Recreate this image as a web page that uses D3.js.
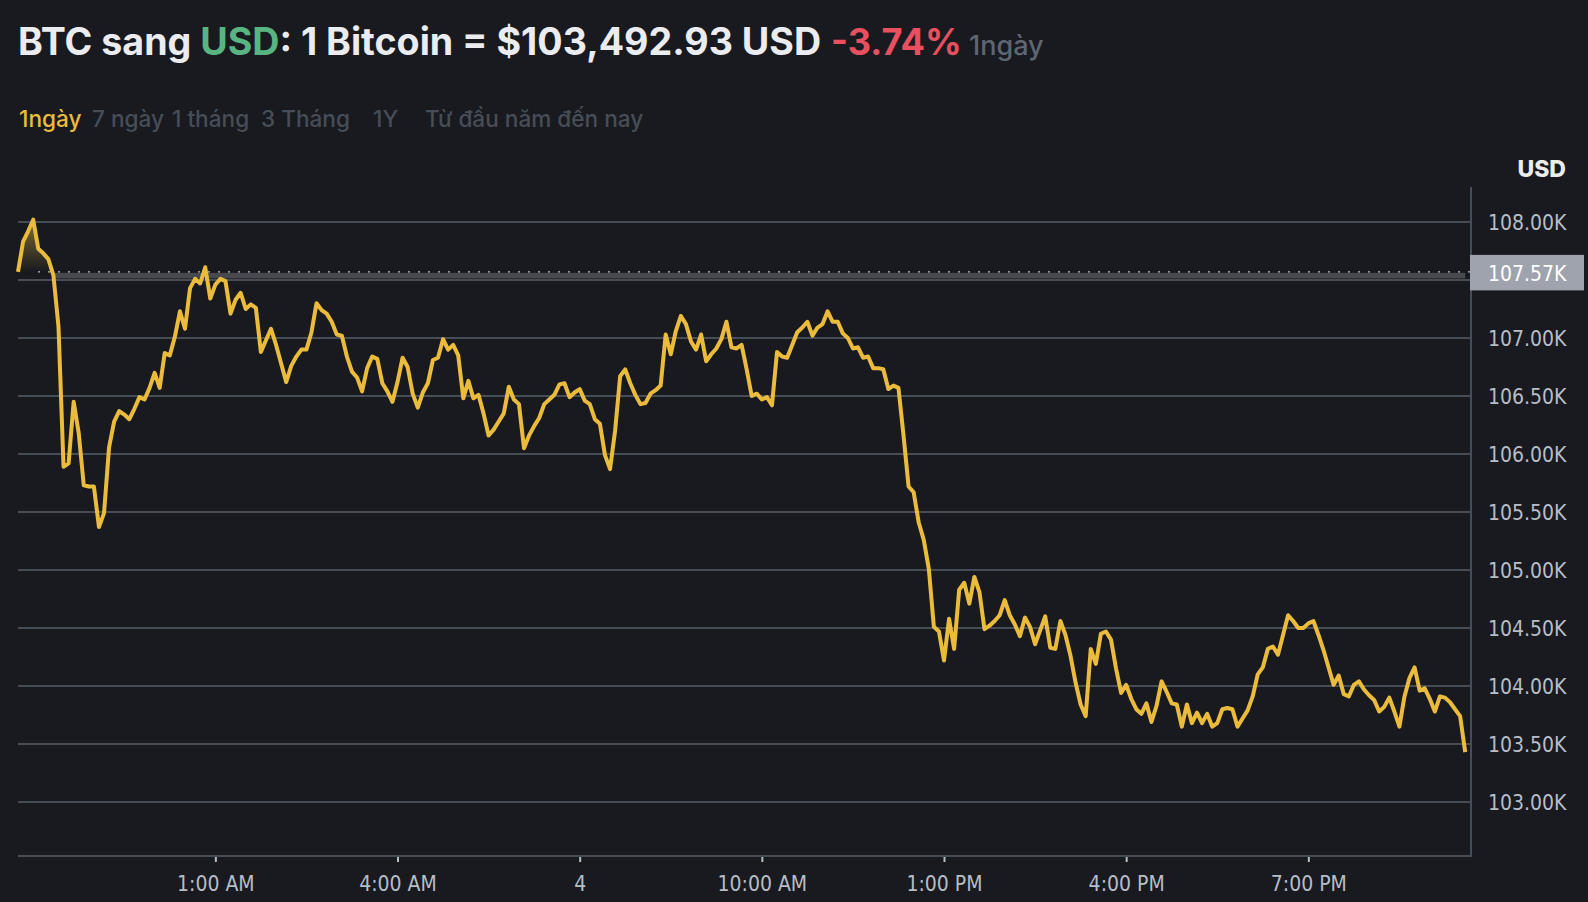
<!DOCTYPE html>
<html><head><meta charset="utf-8">
<script src="https://cdn.jsdelivr.net/npm/d3@7"></script>
<style>
html,body{margin:0;padding:0;background:#181a20;overflow:hidden}
svg{display:block}
.hdr{font-family:Inter,sans-serif}
</style></head><body>
<svg id="c" width="1588" height="902"></svg>
<script>
const prices=[107.57,107.83,107.92,108.02,107.77,107.73,107.68,107.54,107.10,105.89,105.92,106.45,106.18,105.73,105.72,105.72,105.37,105.49,106.06,106.28,106.37,106.34,106.30,106.39,106.49,106.47,106.57,106.70,106.57,106.87,106.85,107.01,107.23,107.08,107.43,107.51,107.47,107.61,107.34,107.46,107.51,107.49,107.21,107.33,107.39,107.25,107.29,107.26,106.88,106.98,
107.08,106.94,106.78,106.62,106.76,106.84,106.90,106.90,107.05,107.30,107.24,107.21,107.14,107.03,107.02,106.84,106.71,106.66,106.54,106.74,106.84,106.82,106.61,106.54,106.45,106.62,106.83,106.75,106.52,106.40,106.53,106.61,106.81,106.83,106.99,106.90,106.94,106.85,
106.48,106.63,106.48,106.51,106.35,106.16,106.21,106.28,106.35,106.58,106.47,106.43,106.05,106.16,106.24,106.31,106.43,106.47,106.51,106.60,106.61,106.49,106.53,106.56,106.46,106.43,106.30,106.26,105.99,105.87,106.20,106.67,106.73,106.61,106.51,106.43,106.44,
106.52,106.55,106.59,107.03,106.86,107.06,107.19,107.12,106.97,106.90,107.03,106.80,106.86,106.91,106.99,107.14,106.92,106.91,106.94,106.73,106.50,106.52,106.47,106.49,106.42,106.88,106.84,106.83,106.94,107.05,107.09,107.14,107.02,107.09,107.12,107.23,107.14,107.14,107.04,107.00,106.91,106.92,106.83,106.84,106.74,106.74,106.73,
106.56,106.59,106.57,106.16,105.72,105.67,105.41,105.26,105.01,104.51,104.47,104.22,104.58,104.32,104.83,104.89,104.71,104.94,104.81,104.49,104.52,104.56,104.61,104.74,104.61,104.53,104.43,104.59,104.51,104.36,104.48,
104.60,104.33,104.32,104.56,104.44,104.26,104.03,103.84,103.74,104.32,104.19,104.45,104.47,104.40,104.15,103.94,104.01,103.89,103.80,103.76,103.85,103.69,103.83,104.04,103.95,103.85,103.84,103.65,103.84,103.68,103.77,103.68,103.76,103.65,103.68,103.80,103.81,103.80,
103.65,103.72,103.79,103.91,104.10,104.16,104.32,104.34,104.27,104.44,104.61,104.56,104.50,104.50,104.54,104.56,104.44,104.31,104.16,104.01,104.09,103.93,103.91,104.01,104.04,103.97,103.92,103.88,103.78,103.82,103.90,103.78,103.65,103.91,104.07,104.16,103.96,103.98,103.89,103.78,103.91,103.90,103.86,103.80,103.74,103.43];
const gridValues=[103,103.5,104,104.5,105,105.5,106,106.5,107,107.5,108];
const yTicks=[103,103.5,104,104.5,105,105.5,106,106.5,107,108];
const xTickSteps=[39,75,111,147,183,219,255];
const xTickLabels=["1:00 AM","4:00 AM","4","10:00 AM","1:00 PM","4:00 PM","7:00 PM"];
const basePrice=107.57;
const baseLabel="107.57K";
const rangeLabels=["1ngày","7 ngày","1 tháng","3 Tháng","1Y","Từ đầu năm đến nay"];
const rangeX=[19,92,172,261,373,425];

const BG="#181a20",GRID="#474d57",GOLD="#ebbc3c",TICK="#b7bdc6";
const TICKFONT="'DejaVu Sans Condensed','DejaVu Sans',sans-serif";
const svg=d3.select("#c");
const x=d3.scaleLinear().domain([0,286]).range([18,1465.2]);
const y=d3.scaleLinear().domain([103,108]).range([802,222]);
const right=1471,bottom=856;

// header
const title=svg.append("text").attr("class","hdr").attr("x",18).attr("y",55)
  .attr("font-size",37.6).attr("font-weight",700).attr("fill","#eaecef");
title.append("tspan").text("BTC sang ");
title.append("tspan").attr("fill","#58b582").text("USD");
title.append("tspan").text(": 1 Bitcoin = $103,492.93 USD");
svg.append("text").attr("class","hdr").attr("x",831).attr("y",55).attr("font-size",36.2).attr("font-weight",700).attr("fill","#e8505f").text("-3.74%");
svg.append("text").attr("class","hdr").attr("x",969).attr("y",55).attr("font-size",27).attr("font-weight",500).attr("fill","#5e6673").text("1ngày");
svg.selectAll("text.rng").data(rangeLabels).join("text").attr("class","hdr rng")
  .attr("x",(d,i)=>rangeX[i]).attr("y",127).attr("font-size",22.6).attr("font-weight",500)
  .attr("fill",(d,i)=>i===0?"#ebbc3c":"#474d57").text(d=>d);

// grid
svg.append("g").selectAll("line").data(gridValues).join("line")
  .attr("x1",18).attr("x2",right).attr("y1",d=>y(d)).attr("y2",d=>y(d))
  .attr("stroke",GRID).attr("stroke-width",2);

// fill
const defs=svg.append("defs");
const g=defs.append("linearGradient").attr("id","up").attr("gradientUnits","userSpaceOnUse")
  .attr("x1",0).attr("x2",0).attr("y1",y(108)).attr("y2",y(basePrice));
g.append("stop").attr("offset","0%").attr("stop-color",GOLD).attr("stop-opacity",.48);
g.append("stop").attr("offset","100%").attr("stop-color",GOLD).attr("stop-opacity",0);
defs.append("clipPath").attr("id","above").append("rect")
  .attr("x",18).attr("width",1460).attr("y",y(108.2)).attr("height",y(basePrice)-y(108.2));
svg.append("path").datum(prices).attr("clip-path","url(#above)").attr("fill","url(#up)")
  .attr("d",d3.area().x((d,i)=>x(i)).y0(y(basePrice)).y1(d=>y(d)));
// band just under the baseline
svg.append("rect").attr("x",x(7.3)).attr("width",x(286)-x(7.3)).attr("y",y(basePrice)+1).attr("height",5.5).attr("fill","#47494e");
// baseline dots
svg.append("line").attr("x1",38).attr("x2",right).attr("y1",y(basePrice)).attr("y2",y(basePrice))
  .attr("stroke","#b7bdc6").attr("stroke-width",1.3).attr("stroke-dasharray","2 8");

// price line
svg.append("path").datum(prices).attr("fill","none").attr("stroke",GOLD).attr("stroke-width",4)
  .attr("stroke-linejoin","round")
  .attr("d",d3.line().x((d,i)=>x(i)).y(d=>y(d)));

// axes
const yAxis=d3.axisRight(y).tickValues(yTicks).tickSize(0).tickPadding(17).tickFormat(d=>d3.format(".2f")(d)+"K");
const ya=svg.append("g").attr("transform",`translate(${right},1)`).call(yAxis);
ya.select(".domain").remove();
ya.selectAll("text").attr("font-family",TICKFONT).attr("font-stretch","condensed").attr("font-size",21).attr("fill",TICK);
const xAxis=d3.axisBottom(x).tickValues(xTickSteps).tickSize(6).tickPadding(14).tickFormat((d,i)=>xTickLabels[i]);
const xa=svg.append("g").attr("transform",`translate(0,${bottom})`).call(xAxis);
xa.select(".domain").remove();
xa.selectAll("line").attr("stroke",TICK).attr("stroke-width",2);
xa.selectAll("text").attr("font-family",TICKFONT).attr("font-stretch","condensed").attr("font-size",21).attr("fill",TICK);
svg.append("line").attr("x1",right).attr("x2",right).attr("y1",187).attr("y2",bottom+1).attr("stroke",GRID).attr("stroke-width",2);
svg.append("line").attr("x1",18).attr("x2",right).attr("y1",bottom).attr("y2",bottom).attr("stroke",GRID).attr("stroke-width",2);

// last-base tag
svg.append("rect").attr("x",1470).attr("y",y(basePrice)-17).attr("width",114).attr("height",35.5).attr("fill","#9ea3ad");
svg.append("text").attr("x",1488).attr("y",y(basePrice)+2).attr("dy","0.36em")
  .attr("font-family",TICKFONT).attr("font-stretch","condensed").attr("font-size",21).attr("fill","#fff").text(baseLabel);
svg.append("text").attr("class","hdr").attr("x",1566).attr("y",177).attr("text-anchor","end").attr("font-size",23).attr("font-weight",800).attr("fill","#eaecef").text("USD");
</script></body></html>
